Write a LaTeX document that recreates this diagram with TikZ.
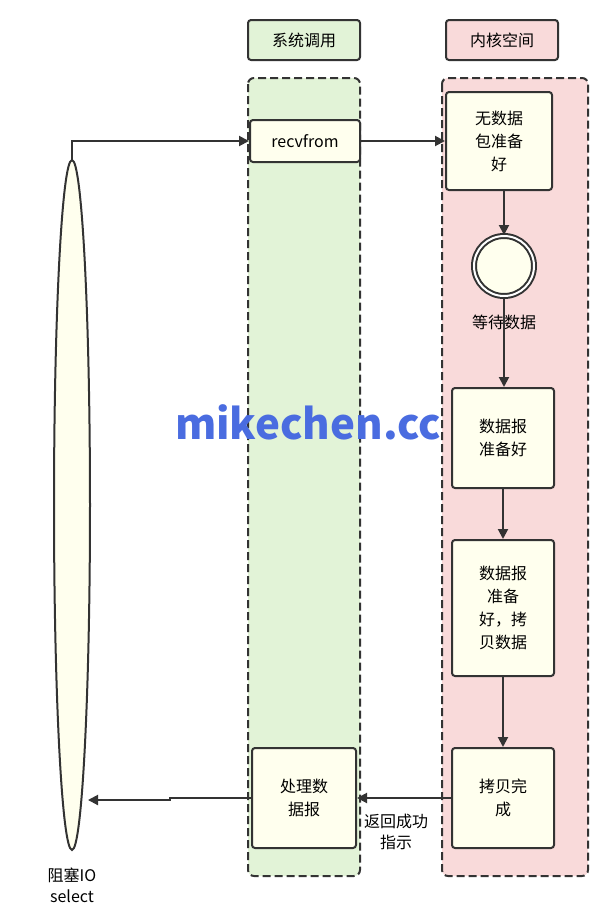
\documentclass[tikz,border=0pt]{standalone}
\usepackage{fontspec}
\setmainfont{Noto Sans CJK SC}
\usetikzlibrary{arrows.meta,shapes.geometric}
\definecolor{gfill}{HTML}{E2F3D7}
\definecolor{pfill}{HTML}{F9DADA}
\definecolor{yfill}{HTML}{FFFFEE}
\definecolor{ln}{HTML}{333333}
\definecolor{wm}{HTML}{4A6CE0}
\begin{document}
\begin{tikzpicture}[x=1pt,y=-1pt,
  hdr/.style={draw=ln,line width=2pt,rounded corners=3pt,minimum width=112pt,minimum height=40pt,font=\fontsize{16}{18}\selectfont},
  col/.style={draw=ln,line width=2pt,dash pattern=on 8pt off 4pt,rounded corners=6pt},
  bx/.style={draw=ln,line width=2pt,fill=yfill,rounded corners=3pt,align=center,font=\fontsize{16}{23}\selectfont},
  arr/.style={draw=ln,line width=2pt,-{Triangle[length=10pt,width=10pt]}},
  lbl/.style={align=center,font=\fontsize{16}{21}\selectfont}]
\useasboundingbox (0,0) rectangle (604,906);
\node[hdr,fill=gfill] (h1) at (304,40) {系统调用};
\node[hdr,fill=pfill] (h2) at (502,40) {内核空间};
\draw[col,fill=gfill] (248,78) rectangle (360,876);
\draw[col,fill=pfill] (442,78) rectangle (588,876);
\node[draw=ln,line width=2pt,fill=yfill,ellipse,minimum width=36pt,minimum height=690pt,inner sep=0pt] (el) at (72,505) {};
\node[bx,minimum width=110pt,minimum height=42pt] (rv) at (305,141) {recvfrom};
\node[bx,minimum width=106pt,minimum height=98pt,text width=60pt] (b1) at (499,141) {无数据\\包准备\\好};
\node[draw=ln,line width=2pt,fill=yfill,circle,minimum size=60pt,double,double distance=2pt] (c) at (504,266) {};
\node[lbl] (wl) at (504,322) {等待数据};
\node[bx,minimum width=102pt,minimum height=100pt] (b2) at (503,438) {数据报\\准备好};
\node[bx,minimum width=102pt,minimum height=136pt,text width=60pt] (b3) at (503,608) {数据报\\准备\\好，拷\\贝数据};
\node[bx,minimum width=102pt,minimum height=100pt] (b4) at (503,798) {拷贝完\\成};
\node[bx,minimum width=104pt,minimum height=100pt] (b5) at (304,798) {处理数\\据报};
\node[lbl] (rl) at (396,832) {返回成功\\指示};
\node[lbl] (sl) at (72,885) {阻塞IO\\select};
\node[font=\bfseries\fontsize{42}{46}\selectfont,text=wm] (w) at (308,422) {mikechen.cc};
\coordinate (et) at (72,160);
\draw[arr] (et) -- (72,141) -- (rv.west);
\draw[arr] (rv.east) -- (b1.west);
\draw[arr] (b1.south -| c.north) -- (c.north);
\draw[arr] (c.south) -- (b2.north -| c.south);
\draw[arr] (b2) -- (b3);
\draw[arr] (b3) -- (b4);
\draw[arr] (b4.west) -- (b5.east);
\draw[arr] (b5.west) -- (170,798) -- (170,800) -- (88,800);
\end{tikzpicture}
\end{document}
